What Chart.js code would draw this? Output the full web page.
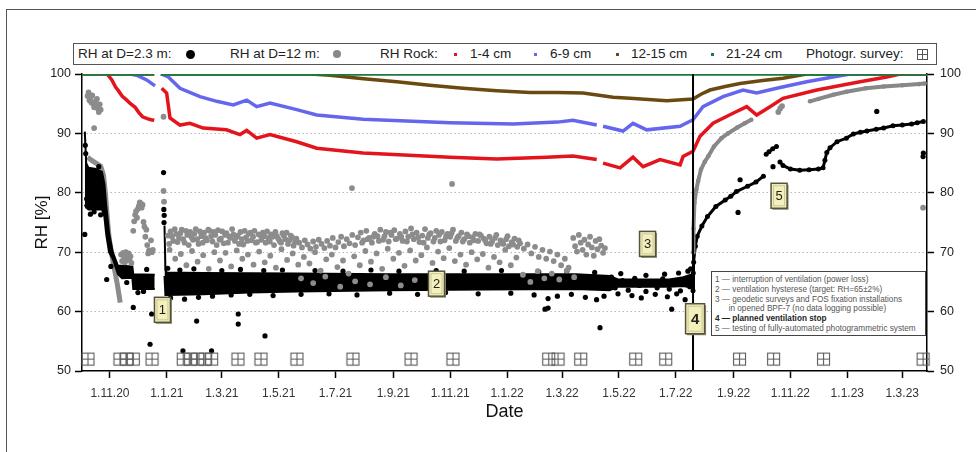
<!DOCTYPE html>
<html>
<head>
<meta charset="utf-8">
<script src="https://cdn.jsdelivr.net/npm/chart.js@4.4.1/dist/chart.umd.min.js"></script>
<style>
  html, body { margin: 0; padding: 0; background: #fff; }
  #wrap { position: relative; width: 976px; height: 452px; overflow: hidden; font-family: "Liberation Sans", Arial, sans-serif; }
  #frame { position: absolute; left: 6px; top: 9px; width: 980px; height: 460px; border-left: 1.5px solid #555; border-top: 1.5px solid #555; }
  #chart { position: absolute; left: 0; top: 0; }
  .legend { position: absolute; left: 73px; top: 43px; width: 862px; height: 20px; border: 1.5px solid #555; background: #fff; }
  .legend span { position: absolute; top: 2px; font-size: 13.5px; color: #222; white-space: nowrap; }
  .legend i { position: absolute; display: block; }
  .notes { position: absolute; left: 711px; top: 271px; width: 215px; height: 65px; border: 1px solid #444; background: #fff; font-size: 8.2px; line-height: 9.8px; color: #555; padding: 3px 0 0 3px; box-sizing: border-box; white-space: nowrap; }
  .notes b { color: #222; }
</style>
</head>
<body>
<div id="wrap">
  <div id="frame"></div>
  <canvas id="chart" width="976" height="452"></canvas>
  <div class="legend">
    <span style="left:4px">RH at D=2.3 m:</span>
    <i style="left:112px;top:6px;width:9px;height:9px;border-radius:50%;background:#000"></i>
    <span style="left:156px">RH at D=12 m:</span>
    <i style="left:259px;top:6px;width:8px;height:8px;border-radius:50%;background:#888"></i>
    <span style="left:306px">RH Rock:</span>
    <i style="left:380px;top:9px;width:3px;height:3px;background:#e3141b"></i>
    <span style="left:396px">1-4 cm</span>
    <i style="left:460px;top:9px;width:3px;height:3px;background:#6566ee"></i>
    <span style="left:476px">6-9 cm</span>
    <i style="left:542px;top:9px;width:3px;height:3px;background:#6b4a12"></i>
    <span style="left:557px">12-15 cm</span>
    <i style="left:637px;top:9px;width:3px;height:3px;background:#1d7a3e"></i>
    <span style="left:652px">21-24 cm</span>
    <span style="left:732px">Photogr. survey:</span>
    <i style="left:843px;top:5px;width:9px;height:9px;border:1px solid #555;background:linear-gradient(#555,#555) center/1px 100% no-repeat,linear-gradient(#555,#555) center/100% 1px no-repeat"></i>
  </div>
  <div class="notes">
    1 — interruption of ventilation (power loss)<br>
    2 — ventilation hysterese (target: RH=65±2%)<br>
    3 — geodetic surveys and FOS fixation installations<br>
    &nbsp;&nbsp;&nbsp;&nbsp;&nbsp;&nbsp;in opened BPF-7 (no data logging possible)<br>
    <b>4 — planned ventilation stop</b><br>
    5 — testing of fully-automated photogrammetric system
  </div>
</div>
<script>
// x values are days counted from 1.11.2020
const tickDays = [0, 61, 120, 181, 242, 304, 365, 426, 485, 546, 607, 669, 730, 791, 850];
const tickLabels = ['1.11.20', '1.1.21', '1.3.21', '1.5.21', '1.7.21', '1.9.21', '1.11.21', '1.1.22',
                    '1.3.22', '1.5.22', '1.7.22', '1.9.22', '1.11.22', '1.1.23', '1.3.23'];
const rhTicks = [50, 60, 70, 80, 90, 100];

// RH rock, by depth
const rock21to24 = [[-30, 100], [47.5, 100], [51, null], [54.5, 100], [876.5, 100]];
const rock12to15 = [[-30, 100], [47.5, 100], [51, null], [54.5, 100], [215, 100], [236, 99.8], [272, 99.2],
  [307.6, 98.7], [343, 98.1], [378.7, 97.6], [415, 97.2], [450.6, 96.9], [480, 96.9], [507.5, 96.8],
  [539.7, 96.1], [557.9, 95.9], [597.3, 95.5], [625.5, 95.8], [634, 96.6], [643.7, 97.3], [660, 97.9],
  [675.9, 98.4], [700, 98.9], [722, 99.3], [747.5, 100], [876.5, 100]];
const rock6to9 = [[21.5, 100], [28.6, 99.8], [39.4, 99.0], [46.5, 98.2], [48.3, 98.0], [51, null],
  [55, 100], [62.6, 99.5], [75.1, 97.6], [96.6, 96.2], [114.5, 95.4], [132.3, 94.8], [146.7, 95.6],
  [157.4, 94.5], [171.7, 95.1], [200.3, 94.0], [221.8, 93.1], [271.4, 92.4], [364.8, 91.8], [432.4, 91.6],
  [480, 91.9], [496.7, 92.2], [522.2, 91.4], [525, null], [529, 91.2], [550.4, 90.4], [561.1, 91.7],
  [575.8, 90.6], [611.6, 91.2], [625.5, 92.3], [636.2, 94.5], [657.7, 96.2], [679.1, 97.3], [693.8, 96.8],
  [715.3, 97.6], [747.5, 98.7], [775.7, 99.5], [794, 100], [876.5, 100]];
const rock1to4 = [[-3, 100], [2, 99.0], [6, 97.8], [9, 97.2], [13, 96.3], [18, 95.6], [22, 95.0], [27, 94.4],
  [31, 93.5], [35, 92.8], [40, 92.5], [44, 92.3], [47.5, 92.2], [51, null],
  [55.5, 97.6], [60.8, 96.8], [64.4, 92.6], [75.1, 91.4], [85.8, 91.7], [100, 90.9], [125, 90.6],
  [139.5, 89.8], [146.7, 90.5], [157.4, 89.2], [171.7, 89.8], [200.3, 88.6], [221.8, 87.5], [271.4, 86.7],
  [364.8, 86.0], [414.9, 85.7], [468.5, 86.0], [496.7, 86.2], [522.2, 85.6], [525, null], [529, 85.0],
  [547.2, 84.2], [561.1, 86.0], [571.9, 84.4], [590.1, 85.6], [611.6, 84.7], [614.8, 86.1], [625.5, 87.0],
  [633, 89.5], [647, 91.7], [668.4, 93.4], [683.1, 94.5], [693.8, 93.1], [708.1, 94.5], [722, 95.9],
  [758.2, 97.3], [804.7, 98.7], [833.3, 99.5], [847.6, 100], [876.5, 100]];

// RH at D=2.3 m: dense core (upper / lower edge), trail after the stop, single points
const rhD23Upper = [[-27, 90.3], [-25.5, 85.0], [-23, 84.2], [-15, 84.0], [-8.6, 83.5], [-6, 81.5], [-4, 77.8],
  [-1, 73.3], [3, 70.0], [8.6, 67.7], [13, 67.7], [24, 67.6], [25, 66.3], [48, 66.2], [52, null],
  [58.5, 74.5], [59.5, 67.0], [61, 66.6], [100, 66.5], [200, 66.4], [300, 66.3], [400, 66.3], [500, 66.3],
  [536, 66.0], [545, 65.4], [600, 65.4], [615, 65.8], [625, 66.3]];
const rhD23Lower = [[-27, 78.0], [-25.5, 77.5], [-23, 77.2], [-15, 77.2], [-8.6, 77.2], [-6, 76.0], [-4, 73.0],
  [-1, 70.0], [3, 68.9], [8.6, 66.3], [13, 65.6], [24, 65.7], [25, 63.8], [48, 63.8], [52, null],
  [58.5, 66.0], [59.5, 62.8], [61, 62.8], [100, 62.9], [150, 63.2], [200, 63.4], [300, 63.6], [400, 63.7],
  [500, 63.8], [536, 63.6], [545, 64.2], [600, 64.2], [615, 64.3], [625, 64.0]];
const rhD23After = [[625.5, 63.5], [625.8, 66.5], [626.2, 68.3], [628, 71.0], [630, 72.7], [635, 74.4],
  [641, 76.0], [650, 77.7], [660, 78.8], [666, 79.4], [672, 80.2], [684, 81.1], [693, 81.8], [701, 82.8],
  [702.5, null], [704, 86.5], [707, 86.9], [711, 87.4], [715, 87.8], [717, null], [718.8, 85.2], [722, 84.6],
  [730, 84.0], [740, 83.8], [750, 83.9], [760, 84.0], [765, 84.2], [767, 85.5], [769, 86.8], [772.5, 87.6],
  [780, 88.6], [790, 89.2], [797.5, 89.9], [805, 90.2], [812, 90.4], [822, 90.7], [830, 90.9], [840, 91.3],
  [850, 91.4], [860, 91.6], [866, 91.8], [872.6, 92.0]];
const rhD23Points = [[-27, 73.0], [-26.5, 88.0], [-26, 86.6], [-25, 79.0], [-21, 76.4], [-17, 76.8],
  [-12, 84.4], [-10, 76.3], [-3.5, 65.4], [1, 67.6], [18, 64.9], [25, 60.7], [30, 63.2], [36, 63.4],
  [39.4, 67.1], [43, 54.5], [44.7, 59.6], [57.5, 83.4], [57.8, 77.2], [58, 75.0], [58.2, 76.2],
  [78.3, 53.4], [93, 58.4], [109, 53.4], [137.6, 59.6], [137.6, 57.9], [166.3, 55.9],
  [466.7, 60.4], [470, 60.6], [525.7, 57.3], [602.6, 60.4],
  [62, 67.3], [75, 67.0], [90, 67.2], [120, 66.9], [140, 67.1], [165, 66.9], [185, 67.0], [220, 66.9],
  [250, 66.8], [280, 67.0], [310, 66.8], [350, 66.9], [380, 66.8], [420, 66.9], [460, 66.7], [490, 66.8],
  [520, 66.6], [548, 66.4], [575, 66.1], [595, 66.3], [610, 66.5], [620, 66.8], [623, 67.2],
  [65, 62.3], [80, 62.1], [95, 62.4], [110, 62.6], [130, 62.8], [150, 62.9], [175, 62.7], [205, 62.9],
  [235, 63.0], [265, 62.8], [300, 63.1], [330, 62.9], [360, 63.2], [395, 63.0], [430, 63.1], [455, 62.8],
  [470, 62.2], [480, 62.6], [495, 62.9], [510, 62.4], [522, 62.0], [530, 62.6], [545, 63.0], [560, 62.7],
  [570, 62.3], [585, 62.9], [598, 62.5], [608, 63.0], [617, 62.0],
  [538, 65.8], [542, 64.0], [550, 65.2], [556, 63.6], [563, 65.6], [568, 64.4], [575, 63.4], [580, 65.0],
  [587, 64.0], [593, 65.5], [600, 63.8], [605, 64.8], [612, 63.5], [618, 65.2], [622, 64.2],
  [673.8, 76.7], [676, 82.2], [711.3, 84.4], [822.6, 93.7], [872.3, 86.1], [872.6, 86.7]];

// RH at D=12 m
const rhD12Early = [[-24, 86.0], [-20, 85.5], [-15, 85.0], [-10, 84.5], [-7, 83.0], [-5, 80.0], [-3, 76.0],
  [-1, 72.5], [2, 69.5], [5, 67.0], [8, 64.5], [10, 62.5], [11, 61.5]];
const rhD12After = [[625.5, 70.0], [626, 74.0], [627, 78.3], [629, 80.5], [631, 82.0], [634, 83.9],
  [638, 85.2], [642, 86.2], [648, 87.8], [656, 89.2], [663, 90.0], [673, 91.0], [681, 91.7], [688, 92.3],
  [689, null], [751, 95.4], [760, 95.8], [776, 96.5], [790, 97.0], [811, 97.6], [830, 97.9], [850, 98.1],
  [868, 98.3], [874, 98.4]];
const rhD12Points = [[-24, 96.3], [-23, 96.9], [-22, 95.6], [-21, 96.0], [-20, 95.2], [-19, 96.4], [-18, 95.0],
  [-17, 94.4], [-16, 95.3], [-15, 94.7], [-14, 95.8], [-13, 94.2], [-12, 93.6], [-11, 94.9], [-10, 94.0],
  [-17, 90.9],
  [12, 69.6], [13, 68.5], [14, 69.9], [15, 69.2], [16, 68.3], [17, 70.0], [18, 69.4], [19, 68.7], [20, 69.8],
  [21, 68.9], [22, 69.3], [23, 68.2],
  [25, 73.6], [26, 75.2], [27, 76.3], [28, 76.9], [29, 75.8], [30, 77.3], [31, 77.8], [32, 78.4], [33, 78.2],
  [34, 77.5], [35, 78.0], [36, 75.1], [37, 74.3], [38, 72.6], [39, 73.8], [40, 71.2], [41, 69.8], [42, 70.3],
  [43, 70.1], [44, 72.0], [45, 70.0], [46, 70.4],
  [57.5, 92.8], [57.5, 80.3], [58, 78.5],
  [62, 72.8], [65, 73.5], [68, 71.9], [71, 73.1], [74, 72.4], [77, 73.8], [80, 71.6], [83, 72.9], [86, 73.4],
  [89, 72.1], [92, 73.9], [95, 71.4], [98, 72.7], [101, 73.3], [104, 72.0], [107, 73.6], [110, 71.8],
  [113, 72.9], [116, 73.7], [119, 72.3], [122, 71.5], [125, 73.2], [128, 72.6], [131, 73.9], [134, 71.9],
  [137, 72.8], [140, 73.4], [143, 71.3], [146, 72.5], [149, 73.1], [152, 72.0], [155, 73.6], [158, 71.7],
  [161, 72.9], [164, 73.3], [167, 71.6], [170, 72.4], [173, 73.0], [176, 71.2], [179, 72.7], [182, 71.9],
  [185, 73.2], [188, 72.2], [191, 71.4], [194, 72.8], [197, 71.1], [200, 72.3], [203, 71.6], [206, 70.8],
  [209, 72.0], [212, 71.3], [215, 70.6], [218, 71.8], [221, 70.9], [224, 72.1], [227, 71.4], [230, 70.7],
  [233, 71.9], [236, 71.1], [239, 72.4], [242, 70.8], [245, 71.7], [248, 72.6], [251, 71.0], [254, 72.2],
  [257, 71.5], [260, 72.9], [263, 71.2], [266, 72.5], [269, 73.3], [272, 72.0], [275, 73.6], [278, 72.4],
  [281, 71.6], [284, 73.1], [287, 72.7], [290, 73.8], [293, 72.1], [296, 73.4], [299, 71.8], [302, 72.9],
  [305, 73.7], [308, 72.3], [311, 73.1], [314, 71.9], [317, 73.5], [320, 72.6], [323, 74.0], [326, 72.2],
  [329, 73.3], [332, 71.7], [335, 72.8], [338, 73.9], [341, 72.4], [344, 73.2], [347, 71.8], [350, 73.6],
  [353, 72.9], [356, 73.4], [359, 72.0], [362, 73.1], [365, 72.6], [368, 73.8], [371, 71.9], [374, 72.7],
  [377, 73.3], [380, 72.2], [383, 73.0], [386, 71.6], [389, 72.5], [392, 73.1], [395, 71.9], [398, 72.8],
  [401, 72.3], [404, 71.5], [407, 72.6], [410, 71.8], [413, 72.4], [416, 71.2], [419, 72.0], [422, 71.4],
  [425, 72.2], [428, 71.0], [431, 71.7], [434, 72.3], [437, 70.9], [440, 71.5],
  [63.5, 71.4], [66.5, 72.6], [69.5, 73.9], [72.5, 71.7], [75.5, 73.2], [78.5, 72.2], [81.5, 73.6],
  [84.5, 71.2], [87.5, 72.5], [90.5, 73.1], [93.5, 72.2], [96.5, 73.5], [99.5, 71.6], [102.5, 72.4],
  [105.5, 73.8], [108.5, 72.7], [111.5, 73.4], [114.5, 71.2], [117.5, 72.1], [120.5, 73.5], [123.5, 72.9],
  [126.5, 71.6], [129.5, 72.4], [132.5, 73.0], [135.5, 72.5], [138.5, 71.4], [141.5, 72.2], [144.5, 73.6],
  [147.5, 71.9], [150.5, 73.3], [153.5, 72.6], [156.5, 71.6], [159.5, 73.0], [162.5, 72.1], [165.5, 72.7],
  [168.5, 73.5], [171.5, 71.8], [174.5, 72.6], [177.5, 73.4], [180.5, 72.3], [183.5, 71.6], [186.5, 72.8],
  [189.5, 73.3], [192.5, 72.0], [195.5, 72.5], [198.5, 71.7], [270.5, 71.6], [276.5, 72.2], [282.5, 72.6],
  [288.5, 71.9], [294.5, 72.7], [300.5, 73.3], [306.5, 72.2], [312.5, 72.6], [318.5, 71.8], [324.5, 73.0],
  [330.5, 72.5], [336.5, 71.6], [342.5, 73.0], [348.5, 72.4], [354.5, 71.8], [360.5, 72.6], [366.5, 73.2],
  [372.5, 72.4], [378.5, 71.8], [384.5, 72.7], [390.5, 72.0], [396.5, 73.0], [402.5, 72.0], [408.5, 71.4],
  [414.5, 72.9], [420.5, 71.6], [426.5, 72.7], [432.5, 71.3], [438.5, 72.0],
  [444, 70.6], [448, 71.3], [452, 69.8], [456, 70.9], [460, 69.2], [464, 70.4], [468, 68.9], [472, 70.1],
  [476, 68.5], [480, 69.6], [484, 67.8], [488, 68.9], [492, 67.4],
  [497, 72.4], [499, 71.0], [501, 70.1], [503, 72.9], [505, 71.6], [507, 70.4], [509, 72.1], [511, 69.6],
  [513, 71.3], [515, 72.6], [517, 70.8], [519, 69.4], [521, 71.9], [523, 70.5], [525, 72.2], [527, 71.1],
  [529, 69.9], [531, 70.7],
  [64, 70.4], [70, 68.9], [76, 69.7], [82, 67.8], [88, 70.2], [94, 68.4], [100, 69.5], [106, 67.2],
  [112, 70.0], [118, 68.6], [124, 69.9], [130, 67.6], [136, 70.3], [142, 68.9], [148, 69.6], [154, 67.9],
  [160, 70.1], [166, 68.3], [172, 69.4], [178, 67.4], [184, 70.5], [190, 68.7], [196, 69.8], [202, 67.9],
  [208, 69.2], [214, 68.1], [220, 70.0], [226, 66.9], [232, 68.8], [238, 69.6], [244, 67.5], [250, 68.6],
  [256, 66.4], [262, 69.3], [268, 67.8], [274, 70.2], [280, 68.4], [286, 69.8], [292, 67.2], [298, 70.6],
  [304, 68.9], [310, 69.9], [316, 67.7], [322, 70.3], [328, 68.6], [334, 69.5], [340, 70.8], [346, 68.2],
  [352, 70.1], [358, 69.0], [364, 70.7], [370, 68.5], [376, 69.6], [382, 67.9], [388, 70.0], [394, 68.8],
  [400, 69.7], [406, 67.4], [412, 69.2], [418, 68.3], [424, 70.4], [430, 67.8], [436, 69.1],
  [205, 65.6], [218, 64.8], [231, 65.9], [247, 64.2], [263, 65.1], [279, 64.6], [296, 65.8], [312, 64.4],
  [327, 65.3], [443, 66.2], [451, 65.0], [459, 66.8], [466, 65.6], [474, 66.4], [482, 65.4], [490, 66.9],
  [498, 65.8],
  [259.6, 80.8], [367, 81.5], [717, 93.6], [719, 94.2], [721, 94.6], [872.3, 77.5]];

// photogrammetric surveys (day) and the planned ventilation stop
const surveyDays = [-23.6, 10.7, 17.9, 25, 45.1, 78.6, 86.5, 94, 101.9, 109.1, 137.3, 162, 200.6, 260.7,
  323, 368, 470.7, 480.7, 505, 564, 596.2, 675.4, 711.9, 765.5, 872.3];
const surveyLevel = 52;
const ventStopDay = 625.5;

// numbered notes: [label, day, RH]
const noteLabels = [['1', 56.3, 60.3], ['2', 350.3, 64.7], ['3', 576.7, 71.4], ['4', 627.7, 58.8], ['5', 717.8, 79.5]];

const pts = arr => arr.map(([x, y]) => ({x: x, y: y}));

// survey symbol: square with a cross
const surveyIcon = document.createElement('canvas');
surveyIcon.width = 15;
surveyIcon.height = 15;
(function() {
    const g = surveyIcon.getContext('2d');
    g.strokeStyle = '#5a5a5a';
    g.lineWidth = 1.1;
    g.strokeRect(1.5, 1.5, 12, 12);
    g.beginPath();
    g.moveTo(7.5, 1.5); g.lineTo(7.5, 13.5);
    g.moveTo(1.5, 7.5); g.lineTo(13.5, 7.5);
    g.stroke();
})();

function lineSet(data, color, width, order) {
    return {type: 'line', data: pts(data), borderColor: color, borderWidth: width, pointRadius: 0,
            fill: false, spanGaps: false, tension: 0, order: order};
}

const notePlugin = {
    id: 'notes',
    afterDatasetsDraw(chart) {
        const ctx = chart.ctx;
        const xs = chart.scales.x, ys = chart.scales.y;
        noteLabels.forEach(([label, day, rh]) => {
            const big = label === '4';
            const w = big ? 19 : 16, h = big ? 30 : 25;
            const cx = xs.getPixelForValue(day), cy = ys.getPixelForValue(rh);
            ctx.save();
            ctx.fillStyle = '#8a8a70';
            ctx.fillRect(cx - w / 2 + 1.5, cy - h / 2 + 1.5, w, h);
            ctx.fillStyle = '#f3f0bc';
            ctx.fillRect(cx - w / 2, cy - h / 2, w, h);
            ctx.strokeStyle = '#55533a';
            ctx.lineWidth = 1.5;
            ctx.strokeRect(cx - w / 2, cy - h / 2, w, h);
            ctx.strokeStyle = '#c9c6a0';
            ctx.lineWidth = 1;
            ctx.strokeRect(cx - w / 2 + 2.5, cy - h / 2 + 2.5, w - 5, h - 5);
            ctx.fillStyle = '#222';
            ctx.font = (big ? 'bold 15px' : '13px') + ' "Liberation Sans", Arial, sans-serif';
            ctx.textAlign = 'center';
            ctx.textBaseline = 'middle';
            ctx.fillText(label, cx, cy + 1);
            ctx.restore();
        });
    }
};

const tickFont = {family: '"Liberation Sans", Arial, sans-serif', size: 12.5};

new Chart(document.getElementById('chart'), {
    type: 'scatter',
    data: {
        datasets: [
            {type: 'line', data: pts([[ventStopDay, 50], [ventStopDay, 100]]), borderColor: '#000',
             borderWidth: 2, pointRadius: 0, order: 1},
            {type: 'scatter', data: surveyDays.map(d => ({x: d, y: surveyLevel})), pointStyle: surveyIcon,
             clip: false, order: 2},
            lineSet(rock21to24, '#1d7a3e', 3.5, 3),
            lineSet(rock1to4, '#e3141b', 3.5, 4),
            lineSet(rock6to9, '#6566ee', 3.5, 5),
            lineSet(rock12to15, '#6b4a12', 3.5, 6),
            Object.assign(lineSet(rhD12After, '#888', 4, 7), {pointRadius: 2.3, pointBackgroundColor: '#888', pointBorderWidth: 0}),
            Object.assign(lineSet(rhD23After, '#000', 3, 8), {pointRadius: 2.5, pointBackgroundColor: '#000', pointBorderWidth: 0}),
            {type: 'scatter', data: pts(rhD12Points), pointRadius: 2.9, pointBackgroundColor: '#8c8c8c',
             pointBorderWidth: 0, order: 9},
            {type: 'scatter', data: pts(rhD23Points), pointRadius: 2.6, pointBackgroundColor: '#000',
             pointBorderWidth: 0, order: 10},
            Object.assign(lineSet(rhD23Upper, '#000', 2, 11), {fill: '+1', backgroundColor: '#000'}),
            lineSet(rhD23Lower, '#000', 2, 12),
            lineSet(rhD12Early, '#8c8c8c', 5, 13)
        ]
    },
    options: {
        responsive: false,
        animation: false,
        devicePixelRatio: 1,
        layout: {padding: {top: 74, left: 0, right: 0, bottom: 0}},
        plugins: {legend: {display: false}, tooltip: {enabled: false}},
        scales: {
            x: {
                type: 'linear', min: -30, max: 876.5,
                afterFit: s => { s.height = 81; },
                afterBuildTicks: s => { s.ticks = tickDays.map(v => ({value: v})); },
                ticks: {
                    autoSkip: false, maxRotation: 0, padding: 8, color: '#333',
                    font: {family: tickFont.family, size: 12},
                    callback: v => tickLabels[tickDays.indexOf(v)]
                },
                grid: {drawOnChartArea: false, tickLength: 7, tickColor: '#000', tickWidth: 1.5},
                border: {color: '#000', width: 1.5},
                title: {display: true, text: 'Date', color: '#111',
                        font: {family: tickFont.family, size: 18}, padding: {top: 0, bottom: 29}}
            },
            y: {
                position: 'left', min: 50, max: 100,
                afterFit: s => { s.width = 82; },
                afterBuildTicks: s => { s.ticks = rhTicks.map(v => ({value: v})); },
                ticks: {padding: 4, color: '#222', font: tickFont},
                grid: {
                    color: c => (c.tick && (c.tick.value === 50 || c.tick.value === 100)) ? 'rgba(0,0,0,0)' : '#b8b8b8',
                    lineWidth: 1, tickLength: 7, tickColor: '#000', tickWidth: 1.5
                },
                border: {color: '#000', width: 1.5, dash: [1.5, 2.5]},
                title: {display: true, text: 'RH [%]', color: '#111',
                        font: {family: tickFont.family, size: 17}, padding: {top: 32, bottom: 0}}
            },
            y2: {
                position: 'right', min: 50, max: 100,
                afterFit: s => { s.width = 49; },
                afterBuildTicks: s => { s.ticks = rhTicks.map(v => ({value: v})); },
                ticks: {padding: 6, color: '#222', font: tickFont},
                grid: {drawOnChartArea: false, tickLength: 7, tickColor: '#000', tickWidth: 1.5},
                border: {color: '#000', width: 1.5}
            }
        }
    },
    plugins: [notePlugin]
});
</script>
</body>
</html>
